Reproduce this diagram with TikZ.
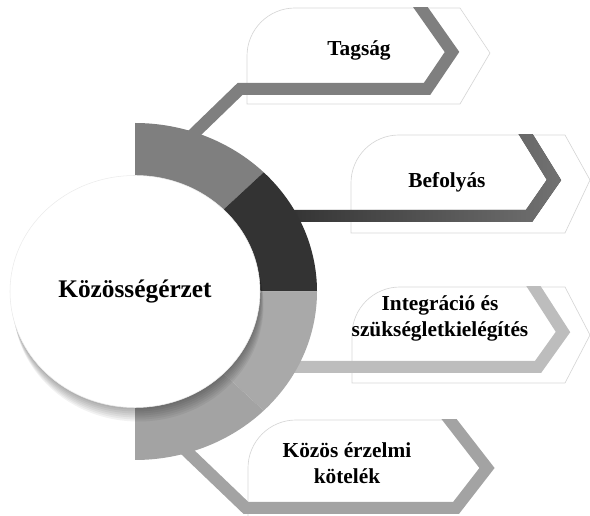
\documentclass[tikz,border=0pt]{standalone}
\usepackage{fontspec}
\setmainfont{Liberation Serif}
\usetikzlibrary{fadings}

\definecolor{ringA}{HTML}{7F7F7F}
\definecolor{ringB}{HTML}{333333}
\definecolor{ringC}{HTML}{A9A9A9}
\definecolor{ringD}{HTML}{A3A3A3}
\definecolor{bandBr}{HTML}{727272}
\definecolor{bandC}{HTML}{BDBDBD}
\tikzfading[name=bandfade, left color=transparent!100, right color=transparent!0]

\begin{document}
\begin{tikzpicture}[x=0.75pt, y=-0.75pt,
  band/.style={line width=9pt, line join=miter},
  boxline/.style={draw=black!16, line width=0.5pt},
  lbl/.style={font=\fontsize{16}{19.5}\selectfont\bfseries, align=center, inner sep=0pt}]
\useasboundingbox (0,0) rectangle (590,516);

\coordinate (ctr) at (135,291.5);

% boxes
\draw[boxline] (247,104) [rounded corners=36pt] -- (247,8) [sharp corners] -- (460,8) -- (490,53) -- (460,104) -- cycle;
\draw[boxline] (351,233) [rounded corners=36pt] -- (351,135) [sharp corners] -- (565,135) -- (590,180) -- (565,233) -- cycle;
\draw[boxline] (352,383) [rounded corners=36pt] -- (352,287) [sharp corners] -- (565,287) -- (590,335) -- (565,383) -- cycle;
\draw[boxline] (248,516) [rounded corners=36pt] -- (248,420) [sharp corners] -- (455,420);

% band corners
\coordinate (t0) at (178,149);
\coordinate (t1) at (240,89);
\coordinate (t2) at (427,89);
\coordinate (t3) at (452,52);
\coordinate (t4) at (414,-2);
\coordinate (b0) at (290,216);
\coordinate (b1) at (529,216);
\coordinate (b2) at (554,180);
\coordinate (b3) at (520,125);
\coordinate (i0) at (285,367);
\coordinate (i1) at (538,367);
\coordinate (i2) at (563,332);
\coordinate (i3) at (527.6,277);
\coordinate (k0) at (175,440);
\coordinate (k1) at (246,508);
\coordinate (k2) at (456,508);
\coordinate (k3) at (487,468);
\coordinate (k4) at (442,410);

% bands
\begin{scope}
\clip (0,8) rectangle (590,516);
\draw[band, ringA] (t0) -- (t1) -- (t2) -- (t3) -- (t4);
\end{scope}
\begin{scope}
\clip (0,135) rectangle (590,516);
\draw[band, ringB] (b0) -- (b1) -- (b2) -- (b3);
\draw[band, bandBr, path fading=bandfade] (b0) -- (b1) -- (b2) -- (b3);
\end{scope}
\begin{scope}
\clip (0,287) rectangle (590,516);
\draw[band, bandC] (i0) -- (i1) -- (i2) -- (i3);
\end{scope}
\begin{scope}
\clip (0,420) rectangle (590,516);
\draw[band, ringD] (k0) -- (k1) -- (k2) -- (k3) -- (k4);
\end{scope}

% ring
\fill[ringA] (ctr) -- ++(-90:182 and 168.5) arc[start angle=-90, end angle=-45, x radius=182, y radius=168.5] -- cycle;
\fill[ringB] (ctr) -- ++(-45:182 and 168.5) arc[start angle=-45, end angle=0, x radius=182, y radius=168.5] -- cycle;
\fill[ringC] (ctr) -- ++(0:182 and 168.5) arc[start angle=0, end angle=45, x radius=182, y radius=168.5] -- cycle;
\fill[ringD] (ctr) -- ++(45:182 and 168.5) arc[start angle=45, end angle=90, x radius=182, y radius=168.5] -- cycle;

% shadow and circle
\foreach \d in {2,4,...,14}
  \fill[black, opacity=0.05] ({135+\d/4},{291.5+\d}) ellipse[x radius=125, y radius=116];
\draw[fill=white, draw=black!8] (ctr) ellipse[x radius=125, y radius=116];

\node[font=\fontsize{19}{23}\selectfont\bfseries] (core) at (135,291) {Közösségérzet};
\node[lbl] (tag) at (359,50) {Tagság};
\node[lbl] (bef) at (447,182) {Befolyás};
\node[lbl] (integ) at (440,318) {Integráció és\\szükségletkielégítés};
\node[lbl] (kozos) at (347,463) {Közös érzelmi\\kötelék};
\end{tikzpicture}
\end{document}
